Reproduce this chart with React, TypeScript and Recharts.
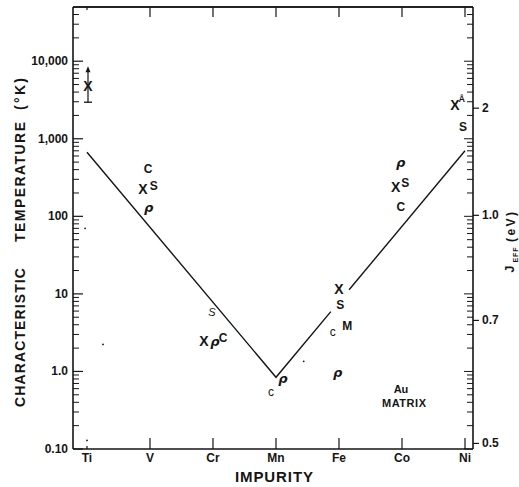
import React from 'react';
import { ComposedChart, Line, Scatter, XAxis, YAxis, Customized } from 'recharts';

const impurities = ['Ti', 'V', 'Cr', 'Mn', 'Fe', 'Co', 'Ni'];
const impurityTicks = [0, 1, 2, 3, 4, 5, 6];

const majorTempTicks = [0.1, 1, 10, 100, 1000, 10000];
const majorTempLabels = ['0.10', '1.0', '10', '100', '1,000', '10,000'];
const minorTempTicks = [
  0.2, 0.3, 0.4, 0.5, 0.6, 0.7, 0.8, 0.9,
  2, 3, 4, 5, 6, 7, 8, 9,
  20, 30, 40, 50, 60, 70, 80, 90,
  200, 300, 400, 500, 600, 700, 800, 900,
  2000, 3000, 4000, 5000, 6000, 7000, 8000, 9000,
  20000, 30000, 40000,
];
// J_EFF (eV) scale positions, expressed on the temperature scale
const jeffTemps = [2480, 103, 4.55, 0.118];
const jeffLabels = ['2', '1.0', '0.7', '0.5'];

// V-shaped curve (with its break near Fe)
const curveLeft = [
  { x: 0, t: 670 },
  { x: 3, t: 0.84 },
  { x: 3.87, t: 5.9 },
];
const curveRight = [
  { x: 4.16, t: 11.3 },
  { x: 6, t: 700 },
];

// Ti lower limit bar
const tiLimit = [
  { x: 0.016, t: 2960 },
  { x: 0.016, t: 7890 },
];

const markX = [
  { x: 0.016, t: 4750 },
  { x: 0.889, t: 223 },
  { x: 1.857, t: 2.44 },
  { x: 4.0, t: 11.6 },
  { x: 4.9, t: 237 },
  { x: 5.84, t: 2700 },
];
const markS = [
  { x: 1.06, t: 244 },
  { x: 4.02, t: 7.2 },
  { x: 5.05, t: 267 },
  { x: 5.97, t: 1400 },
];
const markSmallS = [{ x: 1.984, t: 5.9 }];
const markC = [
  { x: 0.97, t: 404 },
  { x: 2.16, t: 2.67 },
  { x: 4.98, t: 131 },
];
const markRho = [
  { x: 0.98, t: 131 },
  { x: 2.03, t: 2.44 },
  { x: 3.11, t: 0.81 },
  { x: 3.98, t: 0.97 },
  { x: 4.98, t: 498 },
];
const markM = [{ x: 4.13, t: 3.8 }];
const markO = [
  { x: 2.92, t: 0.536 },
  { x: 3.9, t: 3.18 },
];
const markA = [{ x: 5.95, t: 3300 }];
const specks = [
  { x: 0, t: 0.129 },
  { x: -0.03, t: 70 },
  { x: 0.254, t: 2.23 },
  { x: 3.44, t: 1.35 },
];

const FONT = '"Liberation Sans", Arial, Helvetica, sans-serif';
const INK = '#151515';
const X_DOMAIN: [number, number] = [-0.222, 6.127];
const T_DOMAIN: [number, number] = [0.1, 50000];

const LeftTick = (props: any) => {
  const { x, y, payload } = props;
  const v = payload.value;
  const mi = majorTempTicks.indexOf(v);
  if (mi >= 0) {
    return (
      <g>
        <line x1={x} x2={x + 10} y1={y} y2={y} stroke={INK} strokeWidth={1.2} />
        <text
          x={x - 5}
          y={y}
          textAnchor="end"
          dominantBaseline="central"
          fontFamily={FONT}
          fontWeight="bold"
          fontSize={12}
          fill={INK}
        >
          {majorTempLabels[mi]}
        </text>
      </g>
    );
  }
  return <line x1={x} x2={x + 6} y1={y} y2={y} stroke={INK} strokeWidth={1} />;
};

const RightTick = (props: any) => {
  const { x, y, payload } = props;
  const v = payload.value;
  const ji = jeffTemps.indexOf(v);
  if (ji >= 0) {
    return (
      <g>
        <line x1={x} x2={x + 6} y1={y} y2={y} stroke={INK} strokeWidth={1.2} />
        <text
          x={x + 9}
          y={y}
          textAnchor="start"
          dominantBaseline="central"
          fontFamily={FONT}
          fontWeight="bold"
          fontSize={12}
          fill={INK}
        >
          {jeffLabels[ji]}
        </text>
      </g>
    );
  }
  const major = majorTempTicks.indexOf(v) >= 0;
  return <line x1={x} x2={x - (major ? 9 : 6)} y1={y} y2={y} stroke={INK} strokeWidth={1} />;
};

const BottomTick = (props: any) => {
  const { x, y, payload } = props;
  const i = payload.value;
  const len = i === 0 ? 3 : 11;
  return (
    <g>
      <line x1={x} x2={x} y1={y} y2={y - len} stroke={INK} strokeWidth={1.2} />
      <text
        x={x}
        y={y + 9}
        textAnchor="middle"
        dominantBaseline="central"
        fontFamily={FONT}
        fontWeight="bold"
        fontSize={12}
        fill={INK}
      >
        {impurities[i]}
      </text>
    </g>
  );
};

const TopTick = (props: any) => {
  const { x, y, payload } = props;
  const len = payload.value === 0 ? 3 : 10;
  return <line x1={x} x2={x} y1={y} y2={y + len} stroke={INK} strokeWidth={1.2} />;
};

const letterShape = (ch: string, size: number, weight: string, italic: boolean, family = FONT) =>
  (p: any) => (
    <text
      x={p.cx}
      y={p.cy}
      textAnchor="middle"
      dominantBaseline="central"
      fontFamily={family}
      fontWeight={weight}
      fontStyle={italic ? 'italic' : 'normal'}
      fontSize={size}
      fill={INK}
    >
      {ch}
    </text>
  );

const limitDot = (p: any) => {
  const { cx, cy, index } = p;
  if (index === 0) {
    return <line key="cap" x1={cx - 4} x2={cx + 4} y1={cy} y2={cy} stroke={INK} strokeWidth={1.3} />;
  }
  return (
    <path
      key="arrow"
      d={`M ${cx} ${cy - 3} L ${cx - 2.5} ${cy + 3} L ${cx + 2.5} ${cy + 3} Z`}
      fill={INK}
    />
  );
};

const rotText = (cx: number, cy: number, content: string, size: number, len?: number) => (
  <text
    x={cx}
    y={cy}
    transform={`rotate(-90 ${cx} ${cy})`}
    textAnchor="middle"
    dominantBaseline="central"
    fontFamily={FONT}
    fontWeight="bold"
    fontSize={size}
    fill={INK}
    textLength={len}
    lengthAdjust={len ? 'spacing' : undefined}
  >
    {content}
  </text>
);

const Titles = () => (
  <g>
    <line x1={73} x2={473} y1={7} y2={7} stroke={INK} strokeWidth={1.4} />
    {rotText(20, 337.5, 'CHARACTERISTIC', 14, 139)}
    {rotText(20, 182, 'TEMPERATURE', 14, 120)}
    {rotText(20, 94, '(°K)', 14, 32)}
    {rotText(509, 269, 'J', 13)}
    {rotText(515.5, 255, 'EFF', 7, 15)}
    {rotText(511, 227, '(eV)', 12, 30)}
    <text
      x={274}
      y={476}
      textAnchor="middle"
      dominantBaseline="central"
      fontFamily={FONT}
      fontWeight="bold"
      fontSize={15}
      fill={INK}
      textLength={78}
      lengthAdjust="spacing"
    >
      IMPURITY
    </text>
    <text x={401} y={389} textAnchor="middle" dominantBaseline="central" fontFamily={FONT} fontWeight="bold" fontSize={11} fill={INK}>
      Au
    </text>
    <text x={404} y={403} textAnchor="middle" dominantBaseline="central" fontFamily={FONT} fontWeight="bold" fontSize={11} fill={INK} textLength={44} lengthAdjust="spacing">
      MATRIX
    </text>
  </g>
);

export default function App() {
  return (
    <div style={{ position: 'absolute', left: 0, top: 0, background: '#fff' }}>
      <ComposedChart width={519} height={487} margin={{ top: 6, right: 0, bottom: 0, left: 0 }}>
        <XAxis
          xAxisId="bottom"
          dataKey="x"
          type="number"
          domain={X_DOMAIN}
          ticks={impurityTicks}
          interval={0}
          allowDataOverflow
          height={38}
          tickSize={0}
          tickMargin={0}
          tickLine={false}
          tick={BottomTick}
          axisLine={{ stroke: INK, strokeWidth: 1.6 }}
        />
        <XAxis
          xAxisId="top"
          orientation="top"
          dataKey="x"
          type="number"
          domain={X_DOMAIN}
          ticks={impurityTicks}
          interval={0}
          allowDataOverflow
          height={1}
          tickSize={0}
          tickMargin={0}
          tickLine={false}
          tick={TopTick}
          axisLine={{ stroke: INK, strokeWidth: 1.4 }}
        />
        <YAxis
          yAxisId="left"
          type="number"
          scale="log"
          domain={T_DOMAIN}
          allowDataOverflow
          ticks={[...majorTempTicks, ...minorTempTicks]}
          interval={0}
          width={73}
          tickSize={0}
          tickMargin={0}
          tickLine={false}
          tick={LeftTick}
          axisLine={{ stroke: INK, strokeWidth: 1.6 }}
        />
        <YAxis
          yAxisId="right"
          orientation="right"
          type="number"
          scale="log"
          domain={T_DOMAIN}
          allowDataOverflow
          ticks={[...majorTempTicks, ...minorTempTicks, ...jeffTemps]}
          interval={0}
          width={46}
          tickSize={0}
          tickMargin={0}
          tickLine={false}
          tick={RightTick}
          axisLine={{ stroke: INK, strokeWidth: 1.6 }}
        />
        <Line
          xAxisId="bottom"
          yAxisId="left"
          data={curveLeft}
          dataKey="t"
          type="linear"
          stroke={INK}
          strokeWidth={1.4}
          dot={false}
          isAnimationActive={false}
        />
        <Line
          xAxisId="bottom"
          yAxisId="left"
          data={curveRight}
          dataKey="t"
          type="linear"
          stroke={INK}
          strokeWidth={1.4}
          dot={false}
          isAnimationActive={false}
        />
        <Line
          xAxisId="bottom"
          yAxisId="left"
          data={tiLimit}
          dataKey="t"
          type="linear"
          stroke={INK}
          strokeWidth={1.2}
          dot={limitDot}
          isAnimationActive={false}
        />
        <Scatter xAxisId="bottom" yAxisId="left" data={markX} dataKey="t" shape={letterShape('X', 14, 'bold', false)} isAnimationActive={false} />
        <Scatter xAxisId="bottom" yAxisId="left" data={markS} dataKey="t" shape={letterShape('S', 12, 'bold', false)} isAnimationActive={false} />
        <Scatter xAxisId="bottom" yAxisId="left" data={markSmallS} dataKey="t" shape={letterShape('S', 11, 'normal', true)} isAnimationActive={false} />
        <Scatter xAxisId="bottom" yAxisId="left" data={markC} dataKey="t" shape={letterShape('C', 12, 'bold', false)} isAnimationActive={false} />
        <Scatter xAxisId="bottom" yAxisId="left" data={markRho} dataKey="t" shape={letterShape('ρ', 13, 'bold', true, '"DejaVu Sans", sans-serif')} isAnimationActive={false} />
        <Scatter xAxisId="bottom" yAxisId="left" data={markM} dataKey="t" shape={letterShape('M', 12, 'bold', false)} isAnimationActive={false} />
        <Scatter xAxisId="bottom" yAxisId="left" data={markO} dataKey="t" shape={letterShape('c', 12, 'normal', false)} isAnimationActive={false} />
        <Scatter xAxisId="bottom" yAxisId="left" data={markA} dataKey="t" shape={letterShape('Å', 9, 'bold', false)} isAnimationActive={false} />
        <Scatter
          xAxisId="bottom"
          yAxisId="left"
          data={specks}
          dataKey="t"
          shape={(p: any) => <circle cx={p.cx} cy={p.cy} r={0.9} fill={INK} />}
          isAnimationActive={false}
        />
        <Customized component={Titles} />
      </ComposedChart>
    </div>
  );
}
